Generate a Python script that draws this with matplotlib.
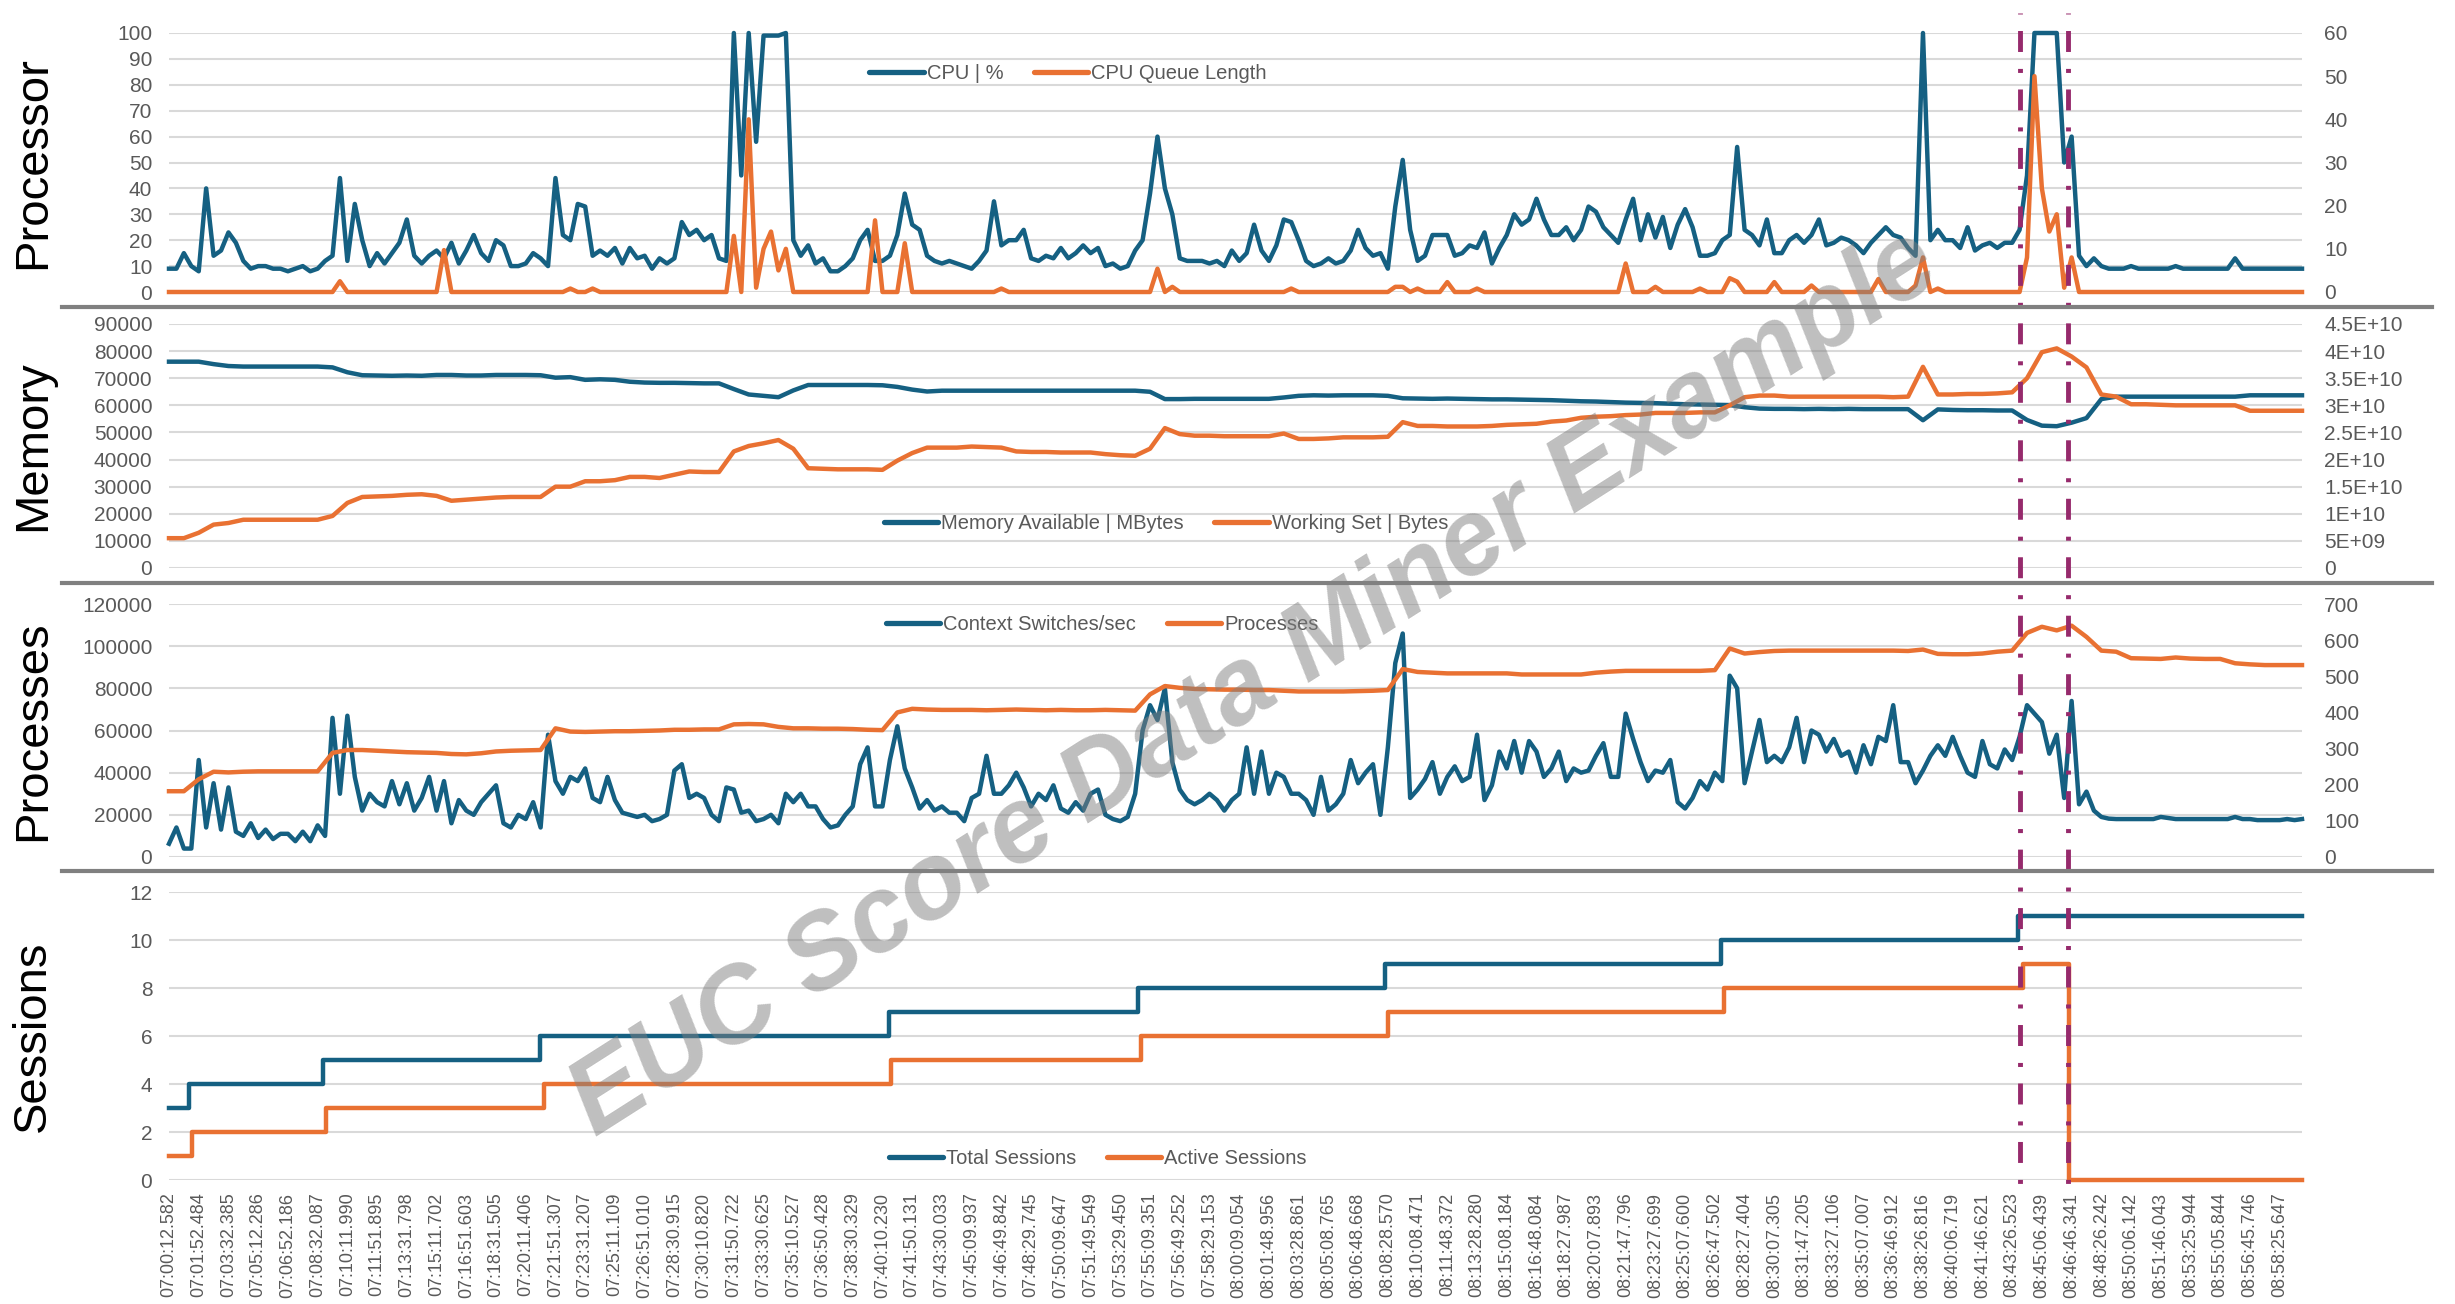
import numpy as np
import matplotlib
matplotlib.use('Agg')
import matplotlib.pyplot as plt
from matplotlib.lines import Line2D

plt.rcParams['font.family'] = ['Liberation Sans', 'DejaVu Sans']
plt.rcParams['lines.scale_dashes'] = False

BLUE, ORANGE, PURPLE = '#156082', '#E97132', '#962A6C'
TXT = '#595959'

## x axis: one unit = one label interval (~100 s)
time_labels = [
    '07:00:12.582', '07:01:52.484', '07:03:32.385', '07:05:12.286', '07:06:52.186', '07:08:32.087',
    '07:10:11.990', '07:11:51.895', '07:13:31.798', '07:15:11.702', '07:16:51.603', '07:18:31.505',
    '07:20:11.406', '07:21:51.307', '07:23:31.207', '07:25:11.109', '07:26:51.010', '07:28:30.915',
    '07:30:10.820', '07:31:50.722', '07:33:30.625', '07:35:10.527', '07:36:50.428', '07:38:30.329',
    '07:40:10.230', '07:41:50.131', '07:43:30.033', '07:45:09.937', '07:46:49.842', '07:48:29.745',
    '07:50:09.647', '07:51:49.549', '07:53:29.450', '07:55:09.351', '07:56:49.252', '07:58:29.153',
    '08:00:09.054', '08:01:48.956', '08:03:28.861', '08:05:08.765', '08:06:48.668', '08:08:28.570',
    '08:10:08.471', '08:11:48.372', '08:13:28.280', '08:15:08.184', '08:16:48.084', '08:18:27.987',
    '08:20:07.893', '08:21:47.796', '08:23:27.699', '08:25:07.600', '08:26:47.502', '08:28:27.404',
    '08:30:07.305', '08:31:47.205', '08:33:27.106', '08:35:07.007', '08:36:46.912', '08:38:26.816',
    '08:40:06.719', '08:41:46.621', '08:43:26.523', '08:45:06.439', '08:46:46.341', '08:48:26.242',
    '08:50:06.142', '08:51:46.043', '08:53:25.944', '08:55:05.844', '08:56:45.746', '08:58:25.647']
t_end = 71.75

## fast samples, every 0.25 label interval
cpu_pct = [
    9, 9, 15, 10, 8, 40, 14, 16, 23, 19, 12, 9, 10, 10, 9, 9, 8, 9, 10, 8, 9, 12, 14, 44,
    12, 34, 20, 10, 15, 11, 15, 19, 28, 14, 11, 14, 16, 13, 19, 11, 16, 22, 15, 12, 20, 18, 10, 10,
    11, 15, 13, 10, 44, 22, 20, 34, 33, 14, 16, 14, 17, 11, 17, 13, 14, 9, 13, 11, 13, 27, 22, 24,
    20, 22, 13, 12, 100, 45, 100, 58, 99, 99, 99, 100, 20, 14, 18, 11, 13, 8, 8, 10, 13, 20, 24, 12,
    12, 14, 22, 38, 26, 24, 14, 12, 11, 12, 11, 10, 9, 12, 16, 35, 18, 20, 20, 24, 13, 12, 14, 13,
    17, 13, 15, 18, 15, 17, 10, 11, 9, 10, 16, 20, 38, 60, 40, 30, 13, 12, 12, 12, 11, 12, 10, 16,
    12, 15, 26, 16, 12, 18, 28, 27, 20, 12, 10, 11, 13, 11, 12, 16, 24, 17, 14, 15, 9, 33, 51, 24,
    12, 14, 22, 22, 22, 14, 15, 18, 17, 23, 11, 17, 22, 30, 26, 28, 36, 28, 22, 22, 25, 20, 24, 33,
    31, 25, 22, 19, 28, 36, 20, 30, 21, 29, 17, 26, 32, 25, 14, 14, 15, 20, 22, 56, 24, 22, 18, 28,
    15, 15, 20, 22, 19, 22, 28, 18, 19, 21, 20, 18, 15, 19, 22, 25, 22, 21, 17, 14, 100, 20, 24, 20,
    20, 17, 25, 16, 18, 19, 17, 19, 19, 24, 45, 100, 100, 100, 100, 50, 60, 14, 10, 13, 10, 9, 9, 9,
    10, 9, 9, 9, 9, 9, 10, 9, 9, 9, 9, 9, 9, 9, 13, 9, 9, 9, 9, 9, 9, 9, 9, 9]
cpu_queue = [
    0, 0, 0, 0, 0, 0, 0, 0, 0, 0, 0, 0, 0, 0, 0, 0, 0, 0, 0, 0, 0, 0, 0, 2.5,
    0, 0, 0, 0, 0, 0, 0, 0, 0, 0, 0, 0, 0, 9.7, 0, 0, 0, 0, 0, 0, 0, 0, 0, 0,
    0, 0, 0, 0, 0, 0, 0.8, 0, 0, 0.8, 0, 0, 0, 0, 0, 0, 0, 0, 0, 0, 0, 0, 0, 0,
    0, 0, 0, 0, 13, 0, 40, 1, 10, 14, 5, 10, 0, 0, 0, 0, 0, 0, 0, 0, 0, 0, 0, 16.6,
    0, 0, 0, 11.3, 0, 0, 0, 0, 0, 0, 0, 0, 0, 0, 0, 0, 0.8, 0, 0, 0, 0, 0, 0, 0,
    0, 0, 0, 0, 0, 0, 0, 0, 0, 0, 0, 0, 0, 5.4, 0, 1.2, 0, 0, 0, 0, 0, 0, 0, 0,
    0, 0, 0, 0, 0, 0, 0, 0.8, 0, 0, 0, 0, 0, 0, 0, 0, 0, 0, 0, 0, 0, 1.2, 1.2, 0,
    0.8, 0, 0, 0, 2.3, 0, 0, 0, 0.8, 0, 0, 0, 0, 0, 0, 0, 0, 0, 0, 0, 0, 0, 0, 0,
    0, 0, 0, 0, 6.6, 0, 0, 0, 1.2, 0, 0, 0, 0, 0, 0.8, 0, 0, 0, 3.2, 2.4, 0, 0, 0, 0,
    2.3, 0, 0, 0, 0, 1.5, 0, 0, 0, 0, 0, 0, 0, 0, 3, 0, 0, 0, 0, 1.5, 8, 0, 0.8, 0,
    0, 0, 0, 0, 0, 0, 0, 0, 0, 0, 8, 50, 24, 14, 18, 1, 8, 0, 0, 0, 0, 0, 0, 0,
    0, 0, 0, 0, 0, 0, 0, 0, 0, 0, 0, 0, 0, 0, 0, 0, 0, 0, 0, 0, 0, 0, 0, 0]
ctx_switches = [
    6300, 14000, 4000, 4000, 46000, 14000, 35000, 13000, 33000, 12000, 10000, 16000,
    9000, 13000, 8500, 11000, 11000, 7500, 12000, 7500, 15000, 10000, 66000, 30000,
    67000, 38000, 22000, 30000, 26000, 24000, 36000, 25000, 35000, 22000, 28000, 38000,
    22000, 36000, 16000, 27000, 22000, 20000, 26000, 30000, 34000, 16000, 14000, 20000,
    18000, 26000, 14000, 58000, 36000, 30000, 38000, 36000, 42000, 28000, 26000, 38000,
    27000, 21000, 20000, 19000, 20000, 17000, 18000, 20000, 41000, 44000, 28000, 30000,
    28000, 20000, 17000, 33000, 32000, 21000, 22000, 17000, 18000, 20000, 16000, 30000,
    26000, 30000, 24000, 24000, 18000, 14000, 15000, 20000, 24000, 44000, 52000, 24000,
    24000, 46000, 62000, 42000, 33000, 23000, 27000, 22000, 24000, 21000, 21000, 17000,
    28000, 30000, 48000, 30000, 30000, 34000, 40000, 33000, 24000, 30000, 27000, 34000,
    23000, 21000, 26000, 22000, 30000, 32000, 20000, 18000, 17000, 19000, 30000, 60000,
    72000, 65000, 80000, 45000, 32000, 27000, 25000, 27000, 30000, 27000, 22000, 27000,
    30000, 52000, 30000, 50000, 30000, 40000, 38000, 30000, 30000, 27000, 20000, 38000,
    22000, 25000, 30000, 46000, 35000, 40000, 44000, 20000, 52000, 92000, 106000, 28000,
    32000, 37000, 45000, 30000, 38000, 43000, 36000, 38000, 58000, 27000, 34000, 50000,
    42000, 55000, 40000, 55000, 50000, 38000, 42000, 50000, 36000, 42000, 40000, 41000,
    48000, 54000, 38000, 38000, 68000, 56000, 45000, 36000, 41000, 40000, 46000, 26000,
    23000, 28000, 36000, 32000, 40000, 36000, 86000, 80000, 35000, 50000, 65000, 45000,
    48000, 45000, 52000, 66000, 45000, 60000, 58000, 50000, 56000, 48000, 50000, 40000,
    53000, 44000, 57000, 55000, 72000, 45000, 45000, 35000, 41000, 48000, 53000, 48000,
    57000, 48000, 40000, 38000, 55000, 44000, 42000, 51000, 46000, 57000, 72000, 68000,
    64000, 49000, 58000, 28000, 74000, 25000, 31000, 22000, 19000, 18200, 18000, 18000,
    18000, 18000, 18000, 18000, 19000, 18500, 18000, 18000, 18000, 18000, 18000, 18000,
    18000, 18000, 19000, 18000, 18000, 17500, 17500, 17500, 17500, 18000, 17500, 18000]

## slow samples, every 0.5 label interval plus the last one
mem_avail_mb = [
    76100, 76100, 76100, 75200, 74500, 74300, 74300, 74300, 74300, 74300,
    74300, 74000, 72200, 71100, 71000, 70900, 71000, 70900, 71200, 71200,
    71000, 71000, 71200, 71200, 71200, 71100, 70200, 70400, 69400, 69600,
    69400, 68700, 68400, 68300, 68300, 68200, 68100, 68100, 66000, 64000,
    63500, 63000, 65500, 67500, 67500, 67500, 67500, 67500, 67400, 66800,
    65800, 65100, 65400, 65400, 65400, 65400, 65400, 65400, 65400, 65400,
    65400, 65400, 65400, 65400, 65400, 65400, 65000, 62300, 62300, 62400,
    62400, 62400, 62400, 62400, 62400, 62900, 63500, 63700, 63600, 63700,
    63700, 63700, 63500, 62600, 62500, 62400, 62500, 62400, 62300, 62200,
    62200, 62100, 62000, 61900, 61700, 61500, 61400, 61200, 61000, 60900,
    60800, 60600, 60400, 60300, 60200, 60100, 59300, 58800, 58700, 58700,
    58600, 58700, 58600, 58700, 58600, 58600, 58600, 58600, 54500, 58500,
    58300, 58200, 58200, 58100, 58100, 54600, 52500, 52300, 53600, 55300,
    62300, 63200, 63200, 63200, 63200, 63200, 63200, 63200, 63200, 63200,
    63700, 63700, 63700, 63700, 63700]
working_set_bytes = [
    5.5e9, 5.5e9, 6.5e9, 8.0e9, 8.3e9, 8.9e9, 8.9e9, 8.9e9, 8.9e9, 8.9e9,
    8.9e9, 9.6e9, 1.2e10, 1.31e10, 1.32e10, 1.33e10, 1.35e10, 1.36e10, 1.33e10, 1.24e10,
    1.26e10, 1.28e10, 1.3e10, 1.31e10, 1.31e10, 1.31e10, 1.5e10, 1.5e10, 1.6e10, 1.6e10,
    1.62e10, 1.68e10, 1.68e10, 1.66e10, 1.72e10, 1.78e10, 1.77e10, 1.77e10, 2.15e10, 2.25e10,
    2.3e10, 2.36e10, 2.2e10, 1.84e10, 1.83e10, 1.82e10, 1.82e10, 1.82e10, 1.81e10, 1.98e10,
    2.12e10, 2.22e10, 2.22e10, 2.22e10, 2.24e10, 2.23e10, 2.22e10, 2.15e10, 2.14e10, 2.14e10,
    2.13e10, 2.13e10, 2.13e10, 2.1e10, 2.08e10, 2.07e10, 2.2e10, 2.58e10, 2.47e10, 2.44e10,
    2.44e10, 2.43e10, 2.43e10, 2.43e10, 2.43e10, 2.48e10, 2.38e10, 2.38e10, 2.39e10, 2.41e10,
    2.41e10, 2.41e10, 2.42e10, 2.69e10, 2.62e10, 2.62e10, 2.61e10, 2.61e10, 2.61e10, 2.62e10,
    2.64e10, 2.65e10, 2.66e10, 2.7e10, 2.72e10, 2.77e10, 2.79e10, 2.8e10, 2.82e10, 2.83e10,
    2.86e10, 2.86e10, 2.86e10, 2.87e10, 2.87e10, 3.0e10, 3.15e10, 3.18e10, 3.18e10, 3.16e10,
    3.16e10, 3.16e10, 3.16e10, 3.16e10, 3.16e10, 3.16e10, 3.15e10, 3.16e10, 3.71e10, 3.2e10,
    3.2e10, 3.21e10, 3.21e10, 3.22e10, 3.24e10, 3.5e10, 3.98e10, 4.05e10, 3.9e10, 3.7e10,
    3.2e10, 3.16e10, 3.02e10, 3.02e10, 3.01e10, 3.0e10, 3.0e10, 3.0e10, 3.0e10, 3.0e10,
    2.9e10, 2.9e10, 2.9e10, 2.9e10, 2.9e10]
processes = [
    182, 182, 215, 236, 234, 236, 237, 237, 237, 237,
    237, 288, 296, 296, 294, 292, 290, 289, 288, 285,
    284, 287, 292, 294, 295, 296, 356, 347, 346, 347,
    348, 348, 349, 350, 352, 352, 353, 353, 367, 368,
    367, 360, 356, 356, 355, 355, 354, 352, 351, 400,
    410, 408, 407, 407, 407, 406, 407, 408, 407, 406,
    407, 406, 406, 407, 406, 405, 450, 473, 468, 465,
    464, 463, 463, 462, 462, 460, 458, 458, 458, 458,
    459, 460, 462, 520, 512, 510, 508, 508, 508, 508,
    508, 505, 505, 505, 505, 505, 510, 513, 515, 515,
    515, 515, 515, 515, 517, 577, 563, 567, 570, 571,
    571, 571, 571, 571, 571, 571, 571, 570, 574, 562,
    561, 561, 563, 568, 571, 620, 637, 627, 640, 609,
    571, 568, 550, 549, 548, 552, 549, 548, 548, 536,
    533, 531, 531, 531, 531]

## sessions: time of each change and the new count
total_change = [0, 0.68, 5.17, 12.48, 24.23, 32.6, 40.9, 52.22, 62.2]
total_sessions = [3, 4, 5, 6, 7, 8, 9, 10, 11]
active_change = [0, 0.78, 5.29, 12.6, 24.28, 32.7, 41.0, 52.3, 62.35, 63.9]
active_sessions = [1, 2, 3, 4, 5, 6, 7, 8, 9, 0]

event_marks = [62.28, 63.87]

t_fast = np.arange(len(cpu_pct)) * 0.25
t_slow = np.append(np.arange(0, t_end, 0.5), t_end)


def excel_general(v, pos=None):
    if v == 0:
        return '0'
    e = int(np.floor(np.log10(v) + 1e-9))
    return f'{v / 10 ** e:g}E+{e:02d}'


W, H = 2455, 1304
fig = plt.figure(figsize=(W / 100, H / 100), dpi=100)
left, width = 169 / W, 2133 / W


def panel(top, bottom):
    ax = fig.add_axes([left, 1 - bottom / H, width, (bottom - top) / H])
    ax.set_xlim(0, t_end)
    for s in ax.spines.values():
        s.set_visible(False)
    ax.tick_params(length=0, labelsize=15, colors=TXT, pad=12)
    ax.grid(axis='y', color='#D9D9D9', lw=1.5)
    ax.set_axisbelow(True)
    ax.set_xticks([])
    return ax


def twin(ax):
    a2 = ax.twinx()
    for s in a2.spines.values():
        s.set_visible(False)
    a2.tick_params(length=0, labelsize=15, colors=TXT, pad=16)
    a2.set_xlim(0, t_end)
    return a2


def legend(ax, labels, x, y):
    hs = [Line2D([], [], color=c, lw=3.8, solid_capstyle='round') for c in (BLUE, ORANGE)]
    lg = ax.legend(hs, labels, loc='center', bbox_to_anchor=(x, y), ncol=2, frameon=False,
                   fontsize=14.5, handlelength=2.7, handletextpad=0.15, columnspacing=1.5,
                   borderaxespad=0, borderpad=0)
    for t in lg.get_texts():
        t.set_color(TXT)


def title(text, top, bottom):
    fig.text(33 / W, 1 - (top + bottom) / 2 / H, text, rotation=90, ha='center', va='center',
             fontsize=34, color='black')


lw = 3.2

# Processor
ax = panel(33, 292)
ax.set_ylim(0, 100)
ax.set_yticks(range(0, 101, 10))
ax.plot(t_fast, cpu_pct, color=BLUE, lw=lw, clip_on=False, solid_joinstyle='round')
a2 = twin(ax)
a2.set_ylim(0, 60)
a2.set_yticks(range(0, 61, 10))
a2.plot(t_fast, cpu_queue, color=ORANGE, lw=lw, clip_on=False, solid_joinstyle='round')
legend(a2, ['CPU | %', 'CPU Queue Length'], 0.4215, 0.845)
title('Processor', 33, 292)

# Memory
ax = panel(324, 568)
ax.set_ylim(0, 90000)
ax.set_yticks(range(0, 90001, 10000))
ax.plot(t_slow, mem_avail_mb, color=BLUE, lw=lw, clip_on=False)
a2 = twin(ax)
a2.set_ylim(0, 4.5e10)
a2.set_yticks(np.arange(0, 4.5e10 + 1, 5e9))
a2.yaxis.set_major_formatter(excel_general)
a2.plot(t_slow, working_set_bytes, color=ORANGE, lw=lw, clip_on=False)
legend(a2, ['Memory Available | MBytes', 'Working Set | Bytes'], 0.4674, 0.184)
title('Memory', 324, 568)

# Processes
ax = panel(604, 857)
ax.set_ylim(0, 120000)
ax.set_yticks(range(0, 120001, 20000))
ax.plot(t_fast, ctx_switches, color=BLUE, lw=lw, clip_on=False, solid_joinstyle='round')
a2 = twin(ax)
a2.set_ylim(0, 700)
a2.set_yticks(range(0, 701, 100))
a2.plot(t_slow, processes, color=ORANGE, lw=lw, clip_on=False)
legend(a2, ['Context Switches/sec', 'Processes'], 0.4375, 0.917)
title('Processes', 604, 857)

# Sessions
ax = panel(892, 1180)
ax.set_ylim(0, 12)
ax.set_yticks(range(0, 13, 2))
ax.step(np.append(total_change, t_end), np.append(total_sessions, total_sessions[-1]),
        where='post', color=BLUE, lw=lw, clip_on=False)
ax.step(np.append(active_change, t_end), np.append(active_sessions, active_sessions[-1]),
        where='post', color=ORANGE, lw=lw, clip_on=False)
ax.set_xticks(np.arange(len(time_labels)))
ax.set_xticklabels(time_labels, rotation=90, fontsize=13, color=TXT)
ax.tick_params(axis='x', pad=9)
legend(ax, ['Total Sessions', 'Active Sessions'], 0.4355, 0.076)
title('Sessions', 892, 1180)

# separators between panels
for y in (307, 583, 871):
    fig.add_artist(Line2D([62 / W, 2432 / W], [1 - y / H] * 2, transform=fig.transFigure,
                          color='#808080', lw=3))

# event markers across all panels
ov = fig.add_axes([left, 1 - 1187 / H, width, 1174 / H])
ov.set_xlim(0, t_end)
ov.set_ylim(0, 1)
ov.axis('off')
for ev in event_marks:
    ov.plot([ev, ev], [1, 0], color=PURPLE, lw=3.5,
            linestyle=(29.5, (15.1, 12.2, 2.9, 11.9)))

fig.text(1255 / W, 1 - 684 / H, 'EUC Score Data Miner Example', rotation=32.5,
         rotation_mode='anchor', ha='center', va='center', fontsize=77,
         fontweight='bold', fontstyle='italic', color='#808080', alpha=0.5, zorder=20)

fig.savefig('out.png', dpi=100)
